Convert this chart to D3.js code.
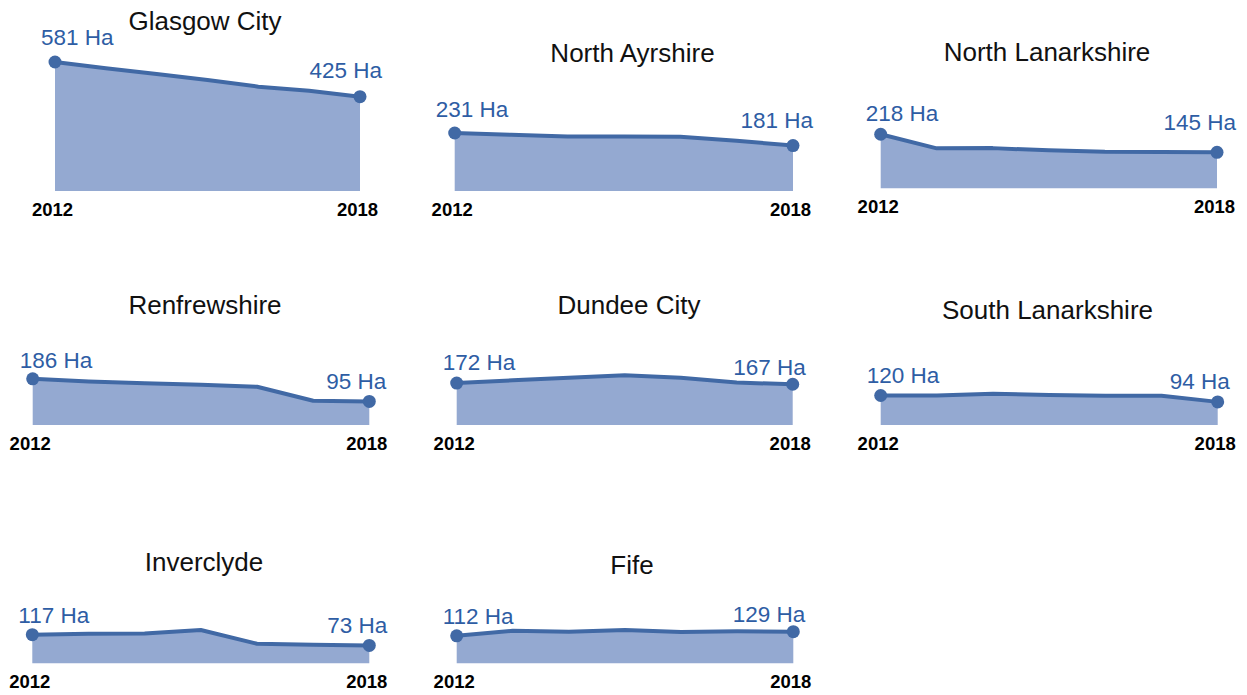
<!DOCTYPE html>
<html><head><meta charset="utf-8">
<script src="https://cdn.jsdelivr.net/npm/d3@7"></script>
<style>body{margin:0;background:#fff}svg{display:block}</style>
</head><body><svg id="c" width="1247" height="695"></svg>
<script>
const years = [2012, 2013, 2014, 2015, 2016, 2017, 2018];
const areas = ["Glasgow City","North Ayrshire","North Lanarkshire","Renfrewshire","Dundee City","South Lanarkshire","Inverclyde","Fife"];
const glasgow = [581, 553, 527, 500, 470, 452, 425];
const northAyrshire = [231, 224, 217, 217, 216, 200, 181];
const northLanarkshire = [218, 161, 162, 153, 147, 146, 145];
const renfrewshire = [186, 175, 168, 162, 154, 98, 95];
const dundee = [172, 183, 194, 204, 194, 174, 167];
const southLanarkshire = [120, 120, 127, 122, 119, 119, 94];
const inverclyde = [117, 121, 122, 136, 80, 76, 73];
const fife = [112, 133, 129, 136, 128, 131, 129];
const series = [glasgow, northAyrshire, northLanarkshire, renfrewshire, dundee, southLanarkshire, inverclyde, fife];
const unit = " Ha";

// layout (pixels) per panel
const layout = [
  {x0:55, x1:360, bottom:191, k:0.222, titleX:205, titleY:30, s:{dx:-14,dy:-17}, e:{dx:22,dy:-19}},
  {x0:454.7, x1:793, bottom:191, k:0.251, titleX:632.5, titleY:61.5, s:{dx:-19,dy:-16}, e:{dx:20,dy:-17.4}},
  {x0:880.7, x1:1217, bottom:188.3, k:0.248, titleX:1047, titleY:60.7, s:{dx:-15,dy:-13.6}, e:{dx:19,dy:-22}},
  {x0:32.7, x1:369.3, bottom:425, k:0.248, titleX:205, titleY:314.3, s:{dx:-13,dy:-10.6}, e:{dx:17,dy:-12}},
  {x0:456.7, x1:792.7, bottom:425, k:0.244, titleX:629, titleY:314.3, s:{dx:-14,dy:-12.6}, e:{dx:13,dy:-9.7}},
  {x0:880.7, x1:1217.7, bottom:425, k:0.246, titleX:1047.5, titleY:319.3, s:{dx:-14,dy:-12}, e:{dx:12,dy:-12.7}},
  {x0:32.3, x1:369.3, bottom:663.3, k:0.245, titleX:204, titleY:571, s:{dx:-14,dy:-12}, e:{dx:18,dy:-12}},
  {x0:456.7, x1:793.3, bottom:663.3, k:0.245, titleX:632, titleY:574.3, s:{dx:-14,dy:-11.7}, e:{dx:12,dy:-10}}
];

const lineColor = "#4169a5", fillColor = "#94a9d1", labelColor = "#2e5da4";
const font = "Liberation Sans, Arial, sans-serif";
const svg = d3.select("#c");

areas.forEach((name, i) => {
  const L = layout[i], vals = series[i];
  const data = years.map((y, j) => ({year: y, v: vals[j]}));
  const x = d3.scaleLinear().domain([years[0], years[years.length-1]]).range([L.x0, L.x1]);
  const y = d3.scaleLinear().domain([0, 100]).range([L.bottom, L.bottom - 100 * L.k]);
  const g = svg.append("g");
  g.append("path").datum(data)
    .attr("d", d3.area().x(d => x(d.year)).y0(y(0)).y1(d => y(d.v)).curve(d3.curveLinear))
    .attr("fill", fillColor);
  g.append("path").datum(data)
    .attr("d", d3.line().x(d => x(d.year)).y(d => y(d.v)).curve(d3.curveLinear))
    .attr("fill", "none").attr("stroke", lineColor).attr("stroke-width", 4).attr("stroke-linejoin", "round");
  const ends = [data[0], data[data.length-1]];
  g.selectAll("circle").data(ends).join("circle")
    .attr("cx", d => x(d.year)).attr("cy", d => y(d.v)).attr("r", 6.5).attr("fill", lineColor);
  // value labels
  g.append("text").attr("x", x(ends[0].year) + L.s.dx).attr("y", y(ends[0].v) + L.s.dy)
    .attr("text-anchor", "start").attr("font-family", font).attr("font-size", 22.5).attr("fill", labelColor)
    .text(ends[0].v + unit);
  g.append("text").attr("x", x(ends[1].year) + L.e.dx).attr("y", y(ends[1].v) + L.e.dy)
    .attr("text-anchor", "end").attr("font-family", font).attr("font-size", 22.5).attr("fill", labelColor)
    .text(ends[1].v + unit);
  // year axis labels
  const axis = d3.axisBottom(x).tickValues([years[0], years[years.length-1]]).tickFormat(d3.format("d")).tickSize(0).tickPadding(0);
  const ax = g.append("g").attr("transform", `translate(-3,${L.bottom + 24.5})`).call(axis);
  ax.select(".domain").remove();
  ax.selectAll("text").attr("dy", 0).attr("font-family", font).attr("font-size", 18.5).attr("font-weight", "bold").attr("fill", "#000");
  // title
  g.append("text").attr("x", L.titleX).attr("y", L.titleY).attr("text-anchor", "middle")
    .attr("font-family", font).attr("font-size", 26).attr("fill", "#111").text(name);
});
</script></body></html>
